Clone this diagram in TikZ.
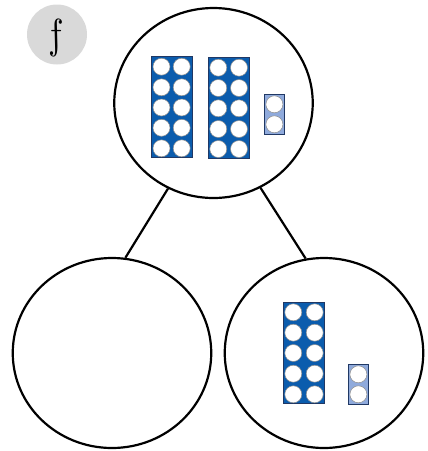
\documentclass[tikz,border=0pt]{standalone}
\usetikzlibrary{shapes.geometric}
\definecolor{rodblue}{HTML}{0B5CAD}
\definecolor{rodlight}{HTML}{8FAADC}
\definecolor{rodedge}{HTML}{203864}
\definecolor{holeedge}{HTML}{8C8C8C}
\definecolor{badgegrey}{HTML}{D9D9D9}
\tikzset{
  part/.style={draw=black,line width=2.2pt,ellipse,minimum width=198.5pt,minimum height=190pt,inner sep=0pt},
  badge/.style={fill=badgegrey,circle,minimum size=60pt,inner sep=0pt},
  tenrod/.style={draw=rodedge,fill=rodblue,line width=0.8pt,minimum width=41pt,minimum height=101pt,inner sep=0pt},
  tworod/.style={draw=rodedge,fill=rodlight,line width=0.8pt,minimum width=20.5pt,minimum height=40pt,inner sep=0pt},
  hole/.style={draw=holeedge,fill=white,line width=0.5pt,circle,minimum size=17pt,inner sep=0pt},
}
\begin{document}
\begin{tikzpicture}[x=1pt,y=-1pt]
      \useasboundingbox (0,0) rectangle (428,451);
      \draw
        (57,34.5) node[badge] (badge){}
        (213.5,103) node[part] (whole){}
        (112,353) node[part] (partA){}
        (324,353) node[part] (partB){};
      \node[xscale=3.6,yscale=4.2,xslant=-0.22,transform shape,inner sep=0pt] (letter) at (56,38) {$f$};
      \begin{scope}[-]
        \draw[line width=2.2pt] (whole.242.6) to (partA.82);
        \draw[line width=2.2pt] (whole.299) to (partB.101.5);
      \end{scope}
      % top circle
      \draw
        (171.5,107.2) node[tenrod] (rodA){}
        (228.5,108.2) node[tenrod] (rodB){}
        (274.5,114.3) node[tworod] (rodC){}
        (161.5,66.7) node[hole] (a1){}
        (181.7,66.7) node[hole] (a2){}
        (161.5,87.3) node[hole] (a3){}
        (181.7,87.3) node[hole] (a4){}
        (161.5,107.5) node[hole] (a5){}
        (181.7,107.5) node[hole] (a6){}
        (161.5,127.8) node[hole] (a7){}
        (181.7,127.8) node[hole] (a8){}
        (161.5,148.3) node[hole] (a9){}
        (181.7,148.3) node[hole] (a10){}
        (218.3,67.7) node[hole] (b1){}
        (239,67.7) node[hole] (b2){}
        (218.3,88) node[hole] (b3){}
        (239,88) node[hole] (b4){}
        (218.3,108.3) node[hole] (b5){}
        (239,108.3) node[hole] (b6){}
        (218.3,129) node[hole] (b7){}
        (239,129) node[hole] (b8){}
        (218.3,149) node[hole] (b9){}
        (239,149) node[hole] (b10){}
        (274.4,104.3) node[hole] (c1){}
        (274.4,124.3) node[hole] (c2){};
      % right circle
      \draw
        (304,353) node[tenrod] (rodD){}
        (358.5,384.3) node[tworod] (rodE){}
        (293.3,312.3) node[hole] (d1){}
        (314.7,312.3) node[hole] (d2){}
        (293.3,332.7) node[hole] (d3){}
        (314.7,332.7) node[hole] (d4){}
        (293.3,353) node[hole] (d5){}
        (314.7,353) node[hole] (d6){}
        (293.3,373.7) node[hole] (d7){}
        (314.7,373.7) node[hole] (d8){}
        (293.3,394.3) node[hole] (d9){}
        (314.7,394.3) node[hole] (d10){}
        (358.4,374.3) node[hole] (e1){}
        (358.4,394.3) node[hole] (e2){};
    \end{tikzpicture}
\end{document}
